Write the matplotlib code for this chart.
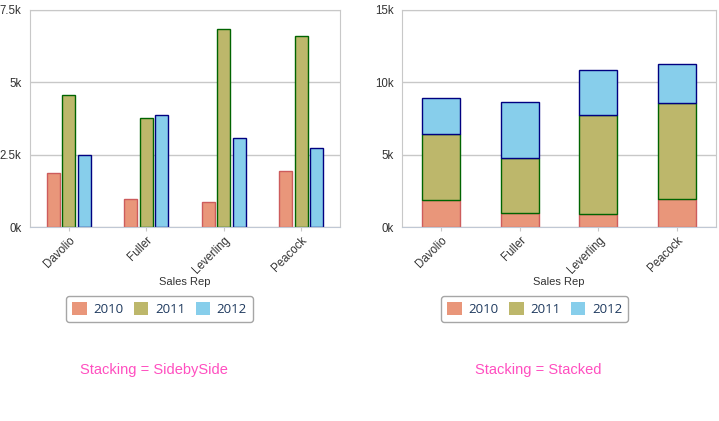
import numpy as np
import matplotlib.pyplot as plt
from matplotlib.patches import Patch
from matplotlib.ticker import FuncFormatter, MultipleLocator

reps = ["Davolio", "Fuller", "Leverling", "Peacock"]
years = ["2010", "2011", "2012"]
sales_2010 = [1870, 970, 880, 1950]
sales_2011 = [4550, 3770, 6860, 6600]
sales_2012 = [2500, 3880, 3080, 2720]

fills = ["#E9967A", "#BDB76B", "#87CEEB"]
edges = ["#CD5C5C", "#006400", "#000080"]
grid_col = "#C8C8C8"
text_col = "#333333"

W, H = 719, 421
fig = plt.figure(figsize=(W / 100, H / 100), dpi=100)


def px_axes(x0, y0, x1, y1):
    return fig.add_axes([x0 / W, 1 - y1 / H, (x1 - x0) / W, (y1 - y0) / H])


def style_axes(ax, ymax, step):
    ax.set_xlim(-0.5, len(reps) - 0.5)
    ax.set_ylim(0, ymax)
    ax.yaxis.set_major_locator(MultipleLocator(step))
    ax.yaxis.set_major_formatter(FuncFormatter(lambda v, _: f"{v / 1000:g}k"))
    ax.grid(axis="y", color=grid_col, lw=1)
    ax.set_axisbelow(True)
    for s in ax.spines.values():
        s.set_color(grid_col)
    ax.spines["bottom"].set_color("#C0C8D4")
    ax.tick_params(axis="y", length=0, pad=6, labelsize=8.3, labelcolor=text_col)
    ax.tick_params(axis="x", length=3, color=grid_col, pad=2, labelsize=8.3, labelcolor=text_col)
    ax.set_xticks(np.arange(len(reps)))
    ax.set_xticklabels(reps, rotation=45, ha="right", rotation_mode="anchor")
    ax.set_xlabel("Sales Rep", fontsize=8, color=text_col, labelpad=1)


def add_legend(ax, cx, cy):
    handles = [Patch(facecolor=f, edgecolor="none") for f in fills]
    leg = ax.legend(handles, years, loc="center", bbox_to_anchor=(cx / W, 1 - cy / H),
                    bbox_transform=fig.transFigure, ncol=3, frameon=True, fancybox=True,
                    edgecolor="#909090", handlelength=1.1, handleheight=1.1,
                    handletextpad=0.5, columnspacing=0.8, borderpad=0.45,
                    prop={"family": "Open Sans", "size": 9.5})
    leg.get_frame().set_linewidth(1)
    for t in leg.get_texts():
        t.set_color("#1F3A5F")


plt.rcParams["font.family"] = ["Liberation Sans", "DejaVu Sans"]

series = [sales_2010, sales_2011, sales_2012]
x = np.arange(len(reps))

# side by side
ax1 = px_axes(30, 10, 340, 227)
for i, vals in enumerate(series):
    ax1.bar(x + (i - 1) * 0.2, vals, width=0.168, color=fills[i], edgecolor=edges[i], lw=1)
style_axes(ax1, 7500, 2500)
add_legend(ax1, 159.5, 309)
fig.text(154 / W, 1 - 370 / H, "Stacking = SidebySide", color="#FF4FC0",
         fontsize=10.5, ha="center", va="center")

# stacked
ax2 = px_axes(402, 10, 716, 227)
bottom = np.zeros(len(reps))
for i, vals in enumerate(series):
    ax2.bar(x, vals, width=0.49, bottom=bottom, color=fills[i], edgecolor=edges[i], lw=1)
    bottom += np.array(vals)
style_axes(ax2, 15000, 5000)
add_legend(ax2, 534.7, 309)
fig.text(538 / W, 1 - 370 / H, "Stacking = Stacked", color="#FF4FC0",
         fontsize=10.5, ha="center", va="center")

fig.savefig("out.png", dpi=100)
